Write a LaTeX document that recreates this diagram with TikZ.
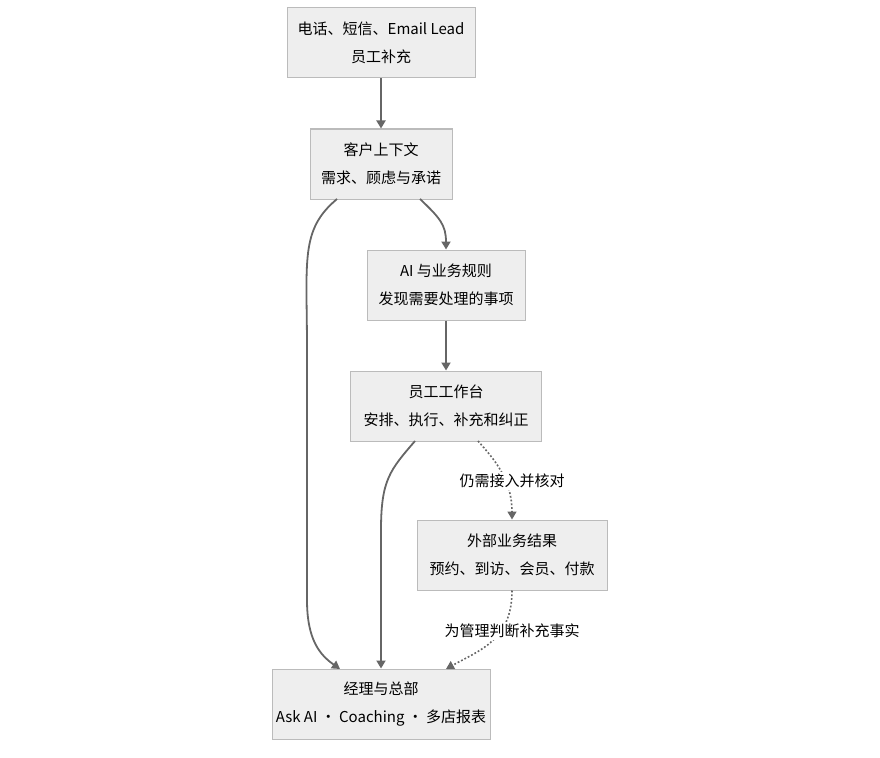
\documentclass[tikz,border=0pt]{standalone}
\usepackage{fontspec}
\setmainfont{Noto Sans CJK SC}
\usetikzlibrary{arrows.meta}
\definecolor{boxfill}{HTML}{EEEEEE}
\definecolor{boxline}{HTML}{BBBBBB}
\definecolor{arr}{HTML}{666666}
\begin{document}
\begin{tikzpicture}[x=1pt,y=-1pt,
  box/.style={draw=boxline,fill=boxfill,line width=1pt,align=center,font=\fontsize{15}{28}\selectfont,inner sep=0pt},
  conn/.style={draw=arr,line width=1.8pt,-{Triangle[length=8pt,width=9pt]}},
  dot/.style={conn,dotted,line width=1.6pt},
  lab/.style={fill=white,font=\fontsize{15}{18}\selectfont,inner sep=2pt}]
\useasboundingbox (0,0) rectangle (880,757);
\node[box,minimum width=188pt,minimum height=70pt] (n1) at (381,43) {电话、短信、Email Lead\\员工补充};
\node[box,minimum width=142pt,minimum height=70pt] (n2) at (381,164) {客户上下文\\需求、顾虑与承诺};
\node[box,minimum width=158pt,minimum height=70pt] (n3) at (446,285) {AI 与业务规则\\发现需要处理的事项};
\node[box,minimum width=191pt,minimum height=70pt] (n4) at (446,406) {员工工作台\\安排、执行、补充和纠正};
\node[box,minimum width=190pt,minimum height=70pt] (n5) at (512,555) {外部业务结果\\预约、到访、会员、付款};
\node[box,minimum width=218pt,minimum height=70pt] (n6) at (381,704) {经理与总部\\Ask AI · Coaching · 多店报表};
\coordinate (a) at (420,199);
\coordinate (b) at (337,199);
\coordinate (c) at (415,441);
\coordinate (d) at (478,441);
\draw[conn] (n1) -- (n2);
\draw[conn] (a) .. controls (440,218) and (446,225) .. (n3.north);
\draw[conn] (b) .. controls (300,230) and (307,260) .. (307,350) -- (307,600) .. controls (307,640) and (320,655) .. (340,669);
\draw[conn] (n3) -- (n4);
\draw[conn] (c) .. controls (390,470) and (381,480) .. (381,530) -- (n6.north);
\draw[dot] (d) .. controls (495,460) and (512,480) .. (n5.north);
\draw[dot] (n5.south) .. controls (512,640) and (480,650) .. (446,669);
\node[lab] (l1) at (512,481) {仍需接入并核对};
\node[lab] (l2) at (512,631) {为管理判断补充事实};
\end{tikzpicture}
\end{document}
